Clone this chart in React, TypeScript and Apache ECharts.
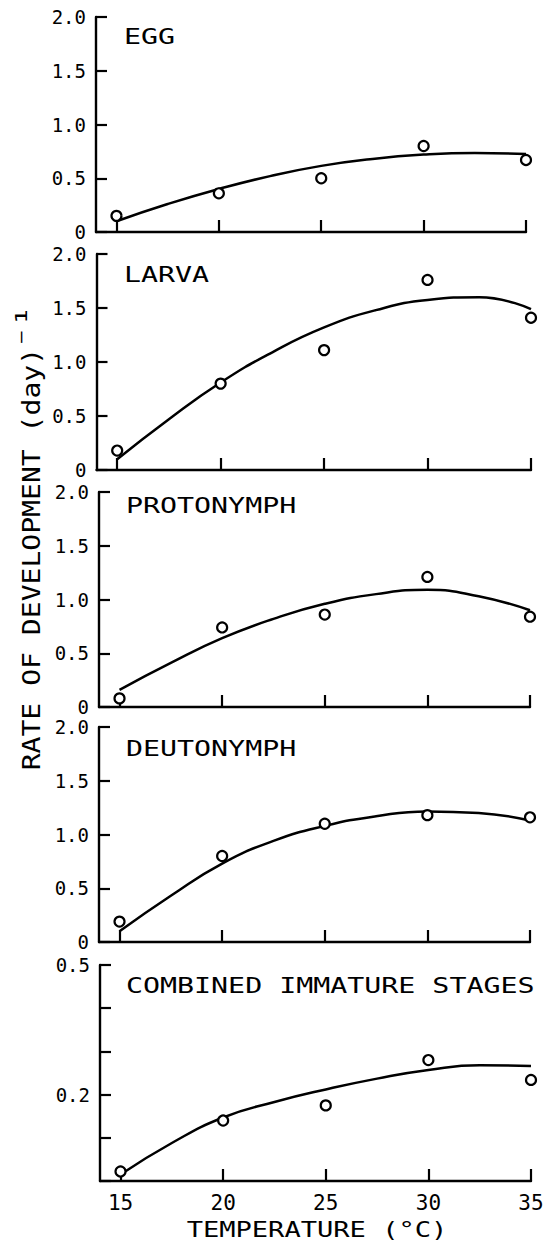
import React, { useEffect, useRef } from "react";
import * as echarts from "echarts";

const temps = [15, 20, 25, 30, 35];
const curveTemps = [15, 17.5, 20, 22.5, 25, 27.5, 30, 32.5, 35];
const xTickValues = [15, 20, 25, 30, 35];

const panelTitles = ["EGG", "LARVA", "PROTONYMPH", "DEUTONYMPH", "COMBINED IMMATURE STAGES"];

const eggObs = [0.15, 0.36, 0.5, 0.8, 0.67];
const eggFit = [0.1, 0.26, 0.4, 0.52, 0.615, 0.68, 0.72, 0.735, 0.725];
const larvaObs = [0.18, 0.8, 1.11, 1.76, 1.41];
const larvaFit = [0.1, 0.47, 0.81, 1.09, 1.32, 1.48, 1.575, 1.6, 1.49];
const protoObs = [0.08, 0.74, 0.86, 1.21, 0.84];
const protoFit = [0.16, 0.41, 0.64, 0.82, 0.96, 1.05, 1.09, 1.03, 0.9];
const deutoObs = [0.19, 0.8, 1.1, 1.18, 1.16];
const deutoFit = [0.1, 0.43, 0.73, 0.94, 1.08, 1.17, 1.215, 1.2, 1.13];
const combObs = [0.022, 0.14, 0.175, 0.28, 0.234];
const combFit = [0.015, 0.088, 0.147, 0.183, 0.212, 0.237, 0.257, 0.268, 0.266];

const observed = [eggObs, larvaObs, protoObs, deutoObs, combObs];
const fitted = [eggFit, larvaFit, protoFit, deutoFit, combFit];

const MONO = "DejaVu Sans Mono";

export default function App() {
  const ref = useRef<HTMLDivElement>(null);
  useEffect(() => {
    document.body.style.margin = "0";
    const chart = echarts.init(ref.current!, null, { renderer: "svg" });
    const grids = [
      { left: 96, right: 24, top: 17, height: 215 },
      { left: 96.5, right: 19, top: 254, height: 216 },
      { left: 99, right: 20, top: 492, height: 215 },
      { left: 99, right: 20, top: 727, height: 215 },
      { left: 100, right: 19, top: 965, height: 216 },
    ];
    const titleY = [37, 275, 506, 749, 986];
    const titleX = [124, 124, 126, 126, 126];
    const axisLine = { show: true, lineStyle: { color: "#000", width: 2.4 } };
    const xAxes = grids.map((_, i) => ({
      type: "value",
      gridIndex: i,
      min: 14,
      max: 35,
      splitLine: { show: false },
      axisLine: { ...axisLine, onZero: false },
      axisTick: {
        show: true,
        inside: true,
        length: 12,
        customValues: xTickValues,
        lineStyle: { color: "#000", width: 2.2 },
      },
      axisLabel: {
        show: i === 4,
        customValues: xTickValues,
        margin: 13,
        color: "#000",
        fontFamily: MONO,
        fontSize: 21,
        lineHeight: 18,
      },
    }));
    const yAxes = grids.map((_, i) => {
      const last = i === 4;
      return {
        type: "value",
        gridIndex: i,
        min: 0,
        max: last ? 0.5 : 2,
        interval: last ? 0.1 : 0.5,
        splitLine: { show: false },
        axisLine: { ...axisLine, onZero: false },
        axisTick: {
          show: true,
          inside: true,
          length: 11,
          lineStyle: { color: "#000", width: 2.2 },
        },
        axisLabel: {
          show: true,
          margin: 10,
          color: "#000",
          fontFamily: MONO,
          fontSize: 19,
          lineHeight: 15,
          showMinLabel: true,
          showMaxLabel: true,
          formatter: (v: number) => {
            if (last) {
              if (Math.abs(v - 0.2) < 1e-6 || Math.abs(v - 0.5) < 1e-6) return v.toFixed(1);
              return "";
            }
            return Math.abs(v) < 1e-9 ? "0" : v.toFixed(1);
          },
        },
      };
    });
    const series: any[] = [];
    for (let i = 0; i < 5; i++) {
      series.push({
        type: "line",
        xAxisIndex: i,
        yAxisIndex: i,
        data: curveTemps.map((t, k) => [t, fitted[i][k]]),
        smooth: 0.5,
        showSymbol: false,
        lineStyle: { color: "#000", width: 2.5 },
        z: 2,
      });
      series.push({
        type: "scatter",
        xAxisIndex: i,
        yAxisIndex: i,
        data: temps.map((t, k) => [t, observed[i][k]]),
        symbol: "circle",
        symbolSize: 10,
        itemStyle: { color: "#fff", borderColor: "#000", borderWidth: 2.2, opacity: 1 },
        z: 3,
      });
    }
    const titleGraphics = panelTitles.map((t, i) => ({
      type: "text",
      x: titleX[i],
      y: titleY[i],
      scaleX: 1.38,
      style: {
        text: t,
        fill: "#000",
        font: `20.5px "${MONO}"`,
        textAlign: "left",
        textVerticalAlign: "middle",
      },
    }));
    chart.setOption({
      animation: false,
      backgroundColor: "#fff",
      grid: grids,
      xAxis: xAxes,
      yAxis: yAxes,
      series,
      graphic: [
        ...titleGraphics,
        {
          type: "text",
          x: 32,
          y: 538,
          rotation: Math.PI / 2,
          scaleX: 1.17,
          style: {
            text: "{a|RATE OF DEVELOPMENT (day)}{b|⁻¹}",
            fill: "#000",
            font: `24px "${MONO}"`,
            textAlign: "center",
            textVerticalAlign: "middle",
            rich: {
              a: { fontFamily: MONO, fontSize: 24, lineHeight: 40, fill: "#000" },
              b: { fontFamily: MONO, fontSize: 30, lineHeight: 26, verticalAlign: "top", fill: "#000" },
            },
          },
        },
        {
          type: "text",
          x: 317,
          y: 1230,
          scaleX: 1.29,
          style: {
            text: "TEMPERATURE (°C)",
            fill: "#000",
            font: `21px "${MONO}"`,
            textAlign: "center",
            textVerticalAlign: "middle",
          },
        },
      ],
    });
    return () => chart.dispose();
  }, []);
  return (
    <div
      ref={ref}
      style={{ position: "absolute", left: 0, top: 0, width: 550, height: 1248 }}
    />
  );
}
